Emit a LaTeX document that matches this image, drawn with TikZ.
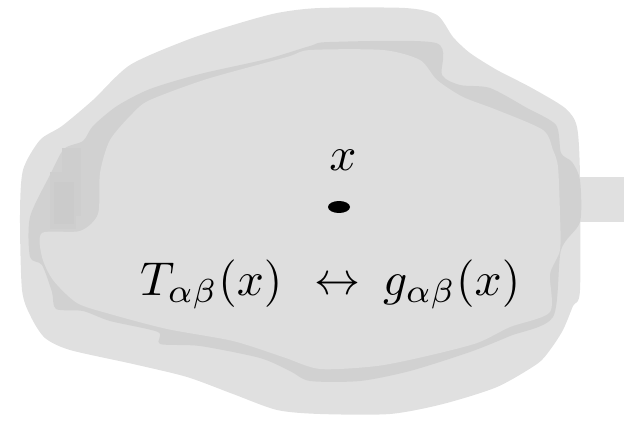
\documentclass[tikz,border=0pt]{standalone}
\usetikzlibrary{shapes.geometric}
\definecolor{outerc}{RGB}{224,224,224}
\definecolor{bandc}{RGB}{209,209,209}
\definecolor{innerc}{RGB}{222,222,222}
\definecolor{patchc}{RGB}{203,203,203}
\newcommand{\mybigmath}[1]{\scalebox{4.75}{$#1$}}
\tikzset{
  lbl/.style={inner sep=0pt, anchor=base west},
  blob/.style={smooth cycle, tension=0.45}
}
\begin{document}
\begin{tikzpicture}[x=1pt,y=-1pt]
\useasboundingbox (0,0) rectangle (629,422);
% outer light blob
\fill[outerc] (578,177) rectangle (624,222);
\fill[outerc] plot[blob] coordinates {(320,8) (405,8) (437,15) (453,37) (470,53) (497,70) (530,87) (565,108) (577,127) (580,177) (580,290) (573,306) (563,330) (550,350) (537,364) (497,387) (443,404) (390,414) (320,414) (277,410) (233,394) (187,377) (133,364) (70,350) (45,338) (31,317) (22,290) (20,215) (23,170) (40,140) (62,126) (93,100) (130,65) (187,40) (233,25) (277,13)};
% darker band
\fill[bandc] plot[blob] coordinates {(310,46) (330,42) (436,43) (442,75) (460,85) (490,88) (527,108) (556,125) (561,153) (572,162) (580,180) (580,222) (561,250) (553,317) (510,336) (470,352) (410,371) (360,381) (310,381) (290,371) (260,358) (200,346) (160,344) (158,332) (110,321) (83,311) (56,309) (52,292) (42,265) (30,257) (30,217) (50,175) (64,149) (83,141) (93,126) (117,106) (150,89) (200,74) (267,59)};
% left patches
\fill[patchc!60!bandc] (62,148) rectangle (81,216);
\fill[patchc!50!bandc] (50,172) rectangle (76,229);
\fill[patchc] (54,182) rectangle (74,224);
% inner light region
\fill[innerc] plot[blob] coordinates {(310,50) (383,50) (420,60) (437,80) (463,97) (497,110) (543,130) (553,150) (558,167) (560,215) (560,250) (550,274) (550,312) (510,327) (477,343) (427,356) (377,366) (320,369) (283,357) (233,341) (167,329) (110,314) (77,303) (53,280) (42,257) (42,233) (80,231) (98,214) (100,173) (110,140) (133,113) (150,100) (207,79) (287,57)};
% labels
\node[lbl, anchor=base] (x) at (343,171) {\mybigmath{x}};
\node[ellipse, fill=black, minimum width=22pt, minimum height=12pt, inner sep=0pt] (pt) at (339,207) {};
\node[lbl] (T) at (140,295) {\mybigmath{T_{\alpha\beta}(x)}};
\node[lbl, anchor=base] (arr) at (337,294) {\scalebox{4.6}{$\leftrightarrow$}};
\node[lbl] (g) at (383,295) {\mybigmath{g_{\alpha\beta}(x)}};
\end{tikzpicture}
\end{document}
